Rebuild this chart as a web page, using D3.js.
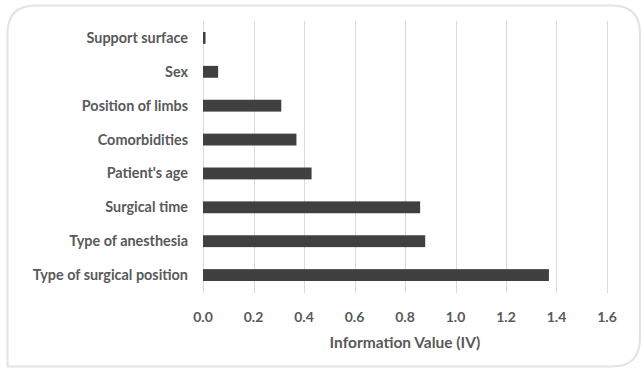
<!DOCTYPE html>
<html><head><meta charset="utf-8">
<script src="https://cdn.jsdelivr.net/npm/d3@7"></script>
<style>
html,body{margin:0;padding:0;background:#fff;}
svg{display:block;}
text{font-family:Lato, "Open Sans", sans-serif;font-weight:bold;fill:#595959;}
</style></head>
<body><svg id="c" width="642" height="369"></svg>
<script>
const categories = ["Support surface","Sex","Position of limbs","Comorbidities","Patient's age","Surgical time","Type of anesthesia","Type of surgical position"];
const values = [0.01,0.06,0.31,0.37,0.43,0.86,0.88,1.37];
const tickValues = [0,0.2,0.4,0.6,0.8,1.0,1.2,1.4,1.6];
const axisTitle = "Information Value (IV)";

const svg = d3.select("#c");
// border: rounded TL, TR, BR; square BL
const L=7.5,T=5.5,R=640,B=366.5,r=28;
svg.append("path")
  .attr("d",`M${L},${B} L${L},${T+r} Q${L},${T} ${L+r},${T} L${R-r},${T} Q${R},${T} ${R},${T+r} L${R},${B-r} Q${R},${B} ${R-r},${B} Z`)
  .attr("fill","#fff").attr("stroke","#e3e3e3").attr("stroke-width",2);

const x = d3.scaleLinear().domain([0,1.6]).range([203,607]);
const y = d3.scaleBand().domain(categories).range([21,292]).paddingInner(0.65).paddingOuter(0.325);

// gridlines
svg.append("g").selectAll("line").data(tickValues).join("line")
  .attr("x1",d=>Math.round(x(d))+0.5).attr("x2",d=>Math.round(x(d))+0.5)
  .attr("y1",21).attr("y2",293)
  .attr("stroke","#d9d9d9").attr("stroke-width",1);

// bars
svg.append("g").selectAll("rect").data(categories).join("rect")
  .attr("x",x(0)).attr("y",d=>y(d))
  .attr("width",(d,i)=>x(values[i])-x(0))
  .attr("height",y.bandwidth())
  .attr("fill","#404040");

// y labels
svg.append("g").selectAll("text").data(categories).join("text")
  .attr("x",188).attr("y",d=>y(d)+y.bandwidth()/2)
  .attr("dy","0.35em").attr("text-anchor","end")
  .style("font-size","14.4px").text(d=>d);

// x tick labels
svg.append("g").selectAll("text").data(tickValues).join("text")
  .attr("x",d=>x(d)).attr("y",317).attr("dy","0.35em")
  .attr("text-anchor","middle").style("font-size","14px")
  .text(d=>d3.format(".1f")(d));

svg.append("text").attr("x",405).attr("y",343).attr("dy","0.35em")
  .attr("text-anchor","middle").style("font-size","15.5px").text(axisTitle);
</script></body></html>
